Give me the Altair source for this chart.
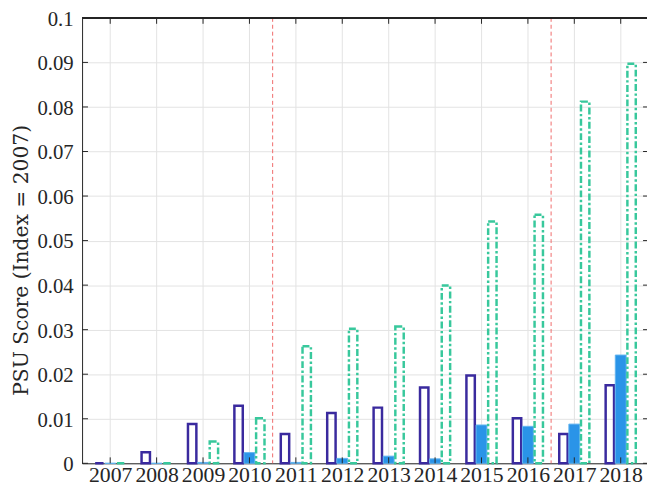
import altair as alt
import pandas as pd

# ---- data ----
years = [2007, 2008, 2009, 2010, 2011, 2012, 2013, 2014, 2015, 2016, 2017, 2018]
series_outline = [0.0, 0.0025, 0.0088, 0.0129, 0.0066, 0.0113, 0.0125, 0.0170, 0.0197, 0.0101, 0.0066, 0.0175]
series_filled = [0.0, 0.0, 0.0002, 0.0024, 0.0002, 0.0011, 0.0016, 0.0010, 0.0086, 0.0083, 0.0088, 0.0243]
series_dashed = [0.0, 0.0, 0.0049, 0.0101, 0.0263, 0.0302, 0.0307, 0.0399, 0.0543, 0.0558, 0.0812, 0.0897]
y_ticks = [0, 0.01, 0.02, 0.03, 0.04, 0.05, 0.06, 0.07, 0.08, 0.09, 0.1]
break_points = [2010.5, 2016.5]
y_title = "PSU Score (Index = 2007)"

# ---- tables ----
df_a = pd.DataFrame({"year": years, "value": series_outline})
df_b = pd.DataFrame({"year": years, "value": series_filled})
df_c = pd.DataFrame({"year": years, "value": series_dashed})
df_years = pd.DataFrame({"year": years})
df_y = pd.DataFrame({"value": y_ticks})
df_breaks = pd.DataFrame({"year": break_points})

W, H = 572, 451
FONT = "Liberation Serif"
TXT = "#262626"

xscale = alt.Scale(domain=[2006.5, 2018.46], nice=False, zero=False)
yscale = alt.Scale(domain=[0, 0.1], nice=False)

xaxis = alt.Axis(values=years, format="d", title=None, grid=True, ticks=False,
                 domain=True, labelPadding=1, labelOverlap=False, labelFlush=False,
                 labelFontSize=22)
yaxis = alt.Axis(values=y_ticks, format="~g", title=y_title, grid=True, ticks=False,
                 domain=True, labelPadding=9, labelOffset=1.5, labelFontSize=21,
                 titleFont="DejaVu Serif", titleFontSize=20.5, titleBaseline="alphabetic",
                 titleX=-55, titleY=245, titleAngle=270)

X = alt.X("year:Q", scale=xscale, axis=xaxis)
Y = alt.Y("value:Q", scale=yscale, axis=yaxis)

bars_a = alt.Chart(df_a).mark_bar(width=8.5, xOffset=-11, fill="transparent", stroke="#3a2a9e",
                                  strokeWidth=2.5).encode(x=X, y=Y, y2=alt.datum(0))
bars_b = alt.Chart(df_b).mark_bar(width=11, xOffset=0, fill="#2a94e8", stroke="#62b4f0",
                                  strokeWidth=1).encode(x=X, y=Y, y2=alt.datum(0))
bars_c = alt.Chart(df_c).mark_bar(width=8.5, xOffset=11, fill="transparent", stroke="#38c89c",
                                  strokeWidth=2.5, strokeDash=[7, 2.5, 2.5, 2.5]).encode(
    x=X, y=Y, y2=alt.datum(0))

breaks = alt.Chart(df_breaks).mark_rule(color="#f06a6a", strokeWidth=1, strokeDash=[4, 3]).encode(x=X)

# inward tick marks (MATLAB style box)
bottom_ticks = alt.Chart(df_years).mark_rule(color=TXT, strokeWidth=1).encode(
    x=X, y=alt.value(H), y2=alt.value(H - 6))
top_ticks = alt.Chart(df_years).mark_rule(color=TXT, strokeWidth=1).encode(
    x=X, y=alt.value(0), y2=alt.value(6))
left_ticks = alt.Chart(df_y).mark_rule(color=TXT, strokeWidth=1).encode(
    y=Y, x=alt.value(0), x2=alt.value(6))
right_ticks = alt.Chart(df_y).mark_rule(color=TXT, strokeWidth=1).encode(
    y=Y, x=alt.value(W - 4), x2=alt.value(W))
top_line = alt.Chart(df_years).mark_rule(color=TXT, strokeWidth=1).encode(
    x=alt.value(0), x2=alt.value(W), y=alt.value(0))

chart = alt.layer(
    breaks, bars_a, bars_b, bars_c,
    bottom_ticks, top_ticks, left_ticks, right_ticks, top_line,
).properties(
    width=W, height=H, autosize="none",
    padding={"left": 75, "top": 7, "right": 0, "bottom": 21},
    background="white",
).configure_view(stroke=None).configure_axis(
    labelFont=FONT, labelColor=TXT,
    titleFont=FONT, titleFontWeight="normal", titleColor=TXT,
    gridColor="#e3e3e3", gridWidth=1, domainColor=TXT, domainWidth=1,
)

chart.save("out.html", embed_options={"renderer": "svg", "actions": False})
